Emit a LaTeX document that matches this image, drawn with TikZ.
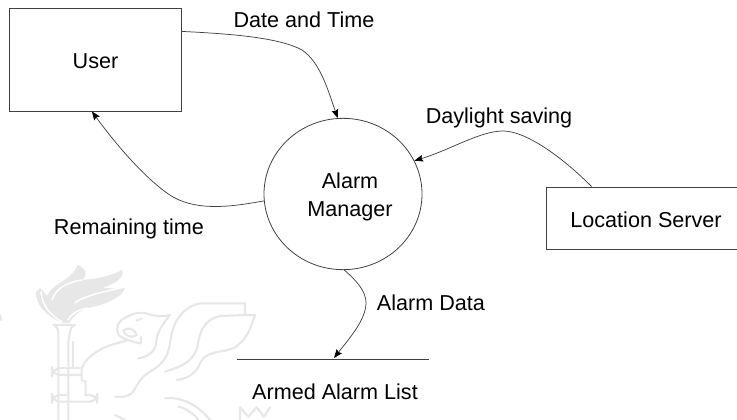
\documentclass[tikz,border=0pt]{standalone}
\usepackage{fontspec}
\setmainfont{Liberation Sans}
\usetikzlibrary{arrows.meta,shapes.geometric}
\definecolor{ink}{gray}{0.25}
\definecolor{crestgray}{gray}{0.905}
\tikzset{
  x=0.75pt,y=-0.75pt,
  label text/.style={font=\fontsize{16.2pt}{19pt}\selectfont,text=black,inner sep=0pt,align=center},
  boxnode/.style={draw=ink,line width=0.6pt,label text,anchor=center},
  flow/.style={draw=ink,line width=0.55pt,-{Stealth[length=6.5pt,width=5pt,inset=1pt,color=black]}},
  crest/.style={draw=crestgray,line width=1.6pt,line join=round,line cap=round},
  gap/.style={draw=white,line width=1.1pt,line cap=round}
}
\begin{document}
\begin{tikzpicture}
\useasboundingbox (0,0) rectangle (737,420);
% watermark: flame
\fill[crestgray] (78,265) .. controls (88,270) and (87,276) .. (82,280) .. controls (95,279) and (112,276) .. (122,270) .. controls (125,276) and (118,283) .. (102,288) .. controls (110,288) and (118,289) .. (125,288) .. controls (123,296) and (108,304) .. (92,307) .. controls (82,309) and (74,315) .. (69,323) -- (63,323) .. controls (48,318) and (35,305) .. (36,292) -- (40,288) .. controls (42,290) and (44,292) .. (47,296) .. controls (52,283) and (70,282) .. (78,265) -- cycle;
\draw[gap] (52,300) .. controls (56,288) and (68,282) .. (82,280);
\draw[gap] (75,303) .. controls (85,295) and (105,292) .. (124,287);
\draw[gap] (68,320) .. controls (72,313) and (78,310) .. (88,308);
\draw[gap] (41,292) .. controls (42,305) and (50,315) .. (62,322);
% watermark: griffin and torch, traced in a 3x grid
\begin{scope}[shift={(40,300)},x=0.25pt,y=-0.25pt]
\draw[crest] (40,75) -- (105,75);
\draw[crest] (42,75) .. controls (50,80) and (55,85) .. (55,95) -- (55,360);
\draw[crest] (105,75) .. controls (95,80) and (90,85) .. (90,95) -- (85,125) -- (85,360);
\draw[crest] (100,125) -- (100,205);
\draw[crest,rounded corners=6pt] (55,205) -- (36,205) -- (36,225) -- (125,225);
\draw[crest] (55,205) -- (120,205);
\draw[crest,rounded corners=6pt] (55,285) -- (36,285) -- (36,305) -- (172,305) -- (172,285) -- (135,285);
\draw[crest] (85,285) -- (55,285);
\draw[crest] (230,130) .. controls (190,140) and (140,165) .. (125,205) -- (125,240) -- (137,245) -- (137,285);
\draw[crest] (390,45) .. controls (370,50) and (345,50) .. (325,42) .. controls (300,33) and (270,42) .. (245,60) .. controls (228,75) and (225,100) .. (245,112) .. controls (265,122) and (295,130) .. (303,130) -- (303,110);
\draw[crest] (390,45) .. controls (365,75) and (350,100) .. (348,130) .. controls (345,155) and (325,170) .. (295,175);
\draw[crest] (250,92) .. controls (262,80) and (285,85) .. (290,105) .. controls (275,115) and (258,110) .. (250,92);
\draw[crest] (290,62) -- (305,55);
\draw[crest] (230,130) -- (260,122);
\draw[crest] (615,10) -- (480,10) .. controls (430,20) and (405,60) .. (395,100) .. controls (385,150) and (390,180) .. (330,215) .. controls (290,240) and (290,265) .. (275,280) .. controls (262,292) and (245,290) .. (225,290);
\draw[crest] (615,10) -- (615,45) -- (645,45) .. controls (630,90) and (620,120) .. (580,145) .. controls (540,160) and (500,150) .. (480,190) .. controls (470,215) and (450,235) .. (410,240);
\draw[crest] (615,45) -- (540,48) .. controls (500,55) and (480,90) .. (475,125) .. controls (470,170) and (445,195) .. (375,215);
\draw[crest] (375,295) .. controls (420,290) and (470,310) .. (510,360);
\draw[crest] (415,320) .. controls (440,325) and (465,345) .. (475,360);
\draw[crest] (225,345) -- (255,360);
\draw[crest] (600,360) -- (600,322) -- (625,350) -- (650,322) -- (672,350) -- (690,322);
\end{scope}
\draw[crest] (0,315) -- (1,320);
% nodes
\node[boxnode,minimum width=129pt,minimum height=77.25pt] (user) at (95.5,59.5) {\raisebox{-7pt}[0pt][0pt]{User}};
\node[draw=ink,line width=0.6pt,ellipse,minimum width=118.5pt,minimum height=113.5pt,inner sep=0pt] (mgr) at (343,194) {};
\node[label text] (mgrtext) at (350,197) {Alarm\\[2pt]Manager};
\node[boxnode,minimum width=150pt,minimum height=46.5pt] (loc) at (646,218) {\raisebox{-7.3pt}[0pt][0pt]{Location Server}};
\node[label text] (store) at (335,392) {Armed Alarm List};
\coordinate (sl) at (237,359);
\coordinate (sr) at (429,359);
\coordinate (stip) at (334,358);
\draw[draw=ink,line width=0.6pt] (sl) -- (sr);
% labels
\node[label text] (l1) at (304,20) {Date and Time};
\node[label text] (l2) at (499,118) {Daylight saving};
\node[label text] (l3) at (129,229) {Remaining time};
\node[label text] (l4) at (431,303) {Alarm Data};
% connectors
\draw[flow] (user.18) .. controls (235,34) and (280,38) .. (302,50) .. controls (320,62) and (328,90) .. (mgr.94);
\draw[flow] (mgr.185) .. controls (235,206) and (200,212) .. (173,197) .. controls (150,183) and (120,150) .. (user.266);
\draw[flow] (loc.150) .. controls (560,155) and (525,131) .. (503,131) .. controls (480,131) and (450,150) .. (mgr.25);
\draw[flow] (mgr.-89) .. controls (358,282) and (366,292) .. (366,303) .. controls (366,320) and (348,340) .. (stip);
\end{tikzpicture}
\end{document}
